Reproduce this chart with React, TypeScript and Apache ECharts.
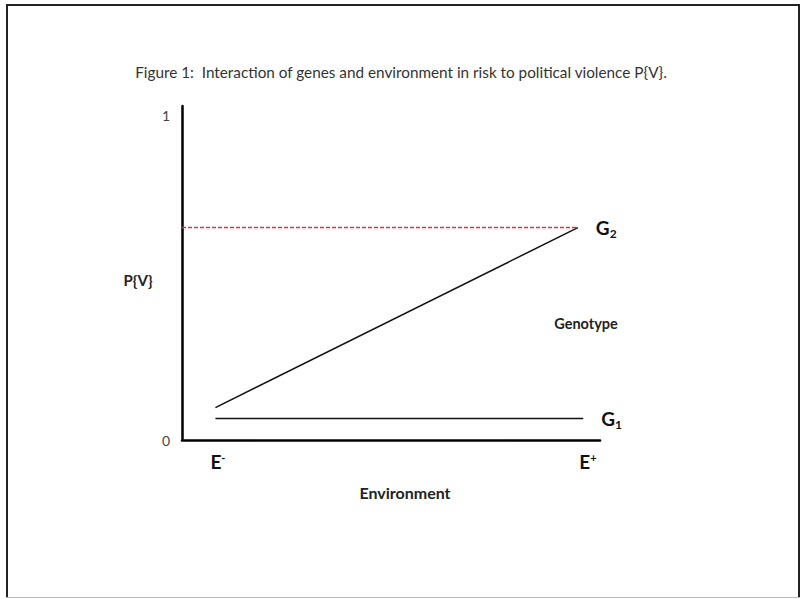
import React, { useEffect, useRef } from "react";
import * as echarts from "echarts";

const titleText = "Figure 1:  Interaction of genes and environment in risk to political violence P{V}.";
const yTickValues = [0, 1];
const xTickValues = [0.086, 0.971];
const xTickLabels = ["{e|E}{sup|-}", "{e|E}{sup|+}"];

const g1X = [0.08, 0.96];
const g1Y = [0.066, 0.066];
const g2X = [0.08, 0.947];
const g2Y = [0.1, 0.655];
const refX = [0, 0.947];
const refY = [0.655, 0.655];

const FONT = "Lato, 'Open Sans', sans-serif";

const zip = (xs: number[], ys: number[]) => xs.map((x, i) => [x, ys[i]]);

export default function App() {
  const ref = useRef<HTMLDivElement>(null);
  useEffect(() => {
    if (!ref.current) return;
    const chart = echarts.init(ref.current, null, { renderer: "svg" });
    const gLabel = (sub: string) => ({
      show: true,
      distance: 18,
      formatter: `{g|G}{s|${sub}}`,
      rich: {
        g: { fontSize: 19, fontWeight: "bold", color: "#111", fontFamily: FONT },
        s: { fontSize: 12, fontWeight: "bold", color: "#111", fontFamily: FONT, verticalAlign: "bottom", padding: [12, 0, 0, 0] },
      },
    });
    chart.setOption({
      animation: false,
      backgroundColor: "#fff",
      title: {
        text: titleText,
        left: "center",
        top: 59,
        textStyle: { fontSize: 15.3, fontWeight: "normal", color: "#333", fontFamily: FONT },
      },
      grid: { left: 182, right: 202, top: 106, bottom: 159, containLabel: false },
      xAxis: {
        type: "value",
        min: 0,
        max: 1,
        splitLine: { show: false },
        axisLine: { show: true, lineStyle: { color: "#000", width: 2.5 } },
        axisTick: { show: false },
        axisLabel: {
          show: true,
          customValues: xTickValues,
          margin: 12,
          formatter: (v: number) => {
            const i = xTickValues.findIndex((t) => Math.abs(t - v) < 1e-6);
            return i >= 0 ? xTickLabels[i] : "";
          },
          rich: {
            e: { fontSize: 19, fontWeight: "bold", color: "#111", fontFamily: FONT },
            sup: { fontSize: 11, fontWeight: "bold", color: "#111", fontFamily: FONT, verticalAlign: "top", padding: [0, 0, 8, 0] },
          },
        },
      },
      yAxis: {
        type: "value",
        min: 0,
        max: 1.03,
        interval: 1,
        splitLine: { show: false },
        axisLine: { show: true, lineStyle: { color: "#000", width: 2.5 } },
        axisTick: { show: false },
        axisLabel: {
          margin: 12,
          fontSize: 14,
          color: "#444",
          fontFamily: FONT,
          showMaxLabel: false,
          formatter: (v: number) => (yTickValues.includes(v) ? String(v) : ""),
        },
      },
      series: [
        {
          type: "line",
          name: "G1",
          data: zip(g1X, g1Y),
          symbol: "none",
          lineStyle: { color: "#111", width: 1.5 },
          endLabel: gLabel("1"),
        },
        {
          type: "line",
          name: "G2",
          data: zip(g2X, g2Y),
          symbol: "none",
          lineStyle: { color: "#111", width: 1.5 },
          endLabel: gLabel("2"),
        },
        {
          type: "line",
          name: "ref",
          data: zip(refX, refY),
          symbol: "none",
          lineStyle: { color: "#e8303a", width: 1.5, type: [4, 2] },
        },
      ],
      graphic: [
        { type: "line", shape: { x1: 6, y1: 5, x2: 800, y2: 5 }, style: { stroke: "#222", lineWidth: 2 } },
        { type: "line", shape: { x1: 7, y1: 4, x2: 7, y2: 598 }, style: { stroke: "#222", lineWidth: 2 } },
        { type: "line", shape: { x1: 799, y1: 4, x2: 799, y2: 598 }, style: { stroke: "#222", lineWidth: 2 } },
        { type: "line", shape: { x1: 6, y1: 597.5, x2: 800, y2: 597.5 }, style: { stroke: "#bbb", lineWidth: 1 } },
        {
          type: "text",
          x: 138,
          y: 280,
          style: { text: "P{V}", fontSize: 15, fontWeight: "bold", fill: "#222", fontFamily: FONT, align: "center", verticalAlign: "middle" },
        },
        {
          type: "text",
          x: 586,
          y: 323,
          style: { text: "Genotype", fontSize: 14.5, fontWeight: "bold", fill: "#222", fontFamily: FONT, align: "center", verticalAlign: "middle" },
        },
        {
          type: "text",
          x: 405,
          y: 492,
          style: { text: "Environment", fontSize: 16, fontWeight: "bold", fill: "#222", fontFamily: FONT, align: "center", verticalAlign: "middle" },
        },
      ],
    });
    return () => chart.dispose();
  }, []);
  return <div ref={ref} style={{ position: "absolute", left: 0, top: 0, width: 802, height: 599 }} />;
}
